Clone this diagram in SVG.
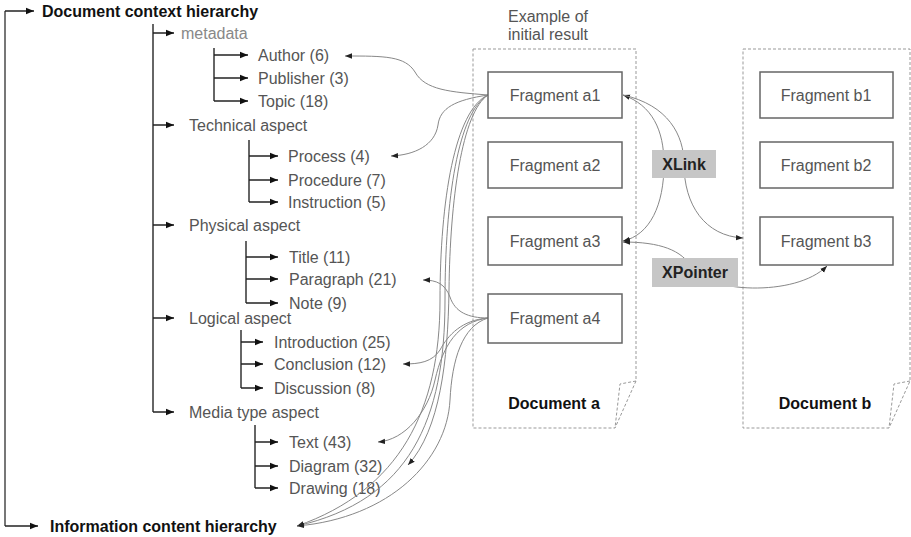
<svg xmlns="http://www.w3.org/2000/svg" width="911" height="537" viewBox="0 0 911 537">
  <defs>
    <marker id="tip" markerUnits="userSpaceOnUse" markerWidth="10" markerHeight="8" refX="8" refY="4" orient="auto">
      <path d="M0,0.8 L8,4 L0,7.2 Z" fill="#111"/>
    </marker>
    <marker id="ltip" markerUnits="userSpaceOnUse" markerWidth="9" markerHeight="7" refX="7" refY="3.5" orient="auto-start-reverse">
      <path d="M0,0.8 L7,3.5 L0,6.2 Z" fill="#222"/>
    </marker>
    <style>
      .tree { fill: none; stroke: #333; stroke-width: 1.5; }
      .trunk { fill: none; stroke: #777; stroke-width: 2; }
      .branch { stroke: #222; stroke-width: 1.5; marker-end: url(#tip); }
      .link { fill: none; stroke: #888; stroke-width: 1; }
      .lbl { font-family: "Liberation Sans", Arial, sans-serif; font-size: 16px; fill: #555; }
      .light { fill: #888; }
      .bold { font-family: "Liberation Sans", Arial, sans-serif; font-size: 16px; font-weight: bold; fill: #111; }
      .frag rect { fill: #fff; stroke: #666; stroke-width: 1.5; }
      .frag text { font-family: "Liberation Sans", Arial, sans-serif; font-size: 16px; fill: #555; text-anchor: middle; }
      .doc { fill: none; stroke: #999; stroke-width: 1; stroke-dasharray: 3 2; }
      .tag rect { fill: #c6c6c6; }
      .tag text { font-family: "Liberation Sans", Arial, sans-serif; font-size: 16px; font-weight: bold; fill: #222; text-anchor: middle; }
    </style>
  </defs>

  <!-- hierarchy tree -->
  <g id="tree-lines">
    <path class="trunk" d="M5,11 V526"/>
    <line class="branch" x1="5" y1="11" x2="34" y2="11"/>
    <line class="branch" x1="5" y1="526" x2="38" y2="526"/>
    <path class="tree" d="M153,24 V412"/>
    <line class="branch" x1="153" y1="33" x2="174" y2="33"/>
    <line class="branch" x1="153" y1="125" x2="174" y2="125"/>
    <line class="branch" x1="153" y1="225" x2="174" y2="225"/>
    <line class="branch" x1="153" y1="318" x2="174" y2="318"/>
    <line class="branch" x1="153" y1="412" x2="174" y2="412"/>
    <path class="tree" d="M214,48 V101"/>
    <line class="branch" x1="214" y1="55" x2="248" y2="55"/>
    <line class="branch" x1="214" y1="78" x2="248" y2="78"/>
    <line class="branch" x1="214" y1="101" x2="248" y2="101"/>
    <path class="tree" d="M249,140 V202"/>
    <line class="branch" x1="249" y1="156" x2="278" y2="156"/>
    <line class="branch" x1="249" y1="180" x2="278" y2="180"/>
    <line class="branch" x1="249" y1="202" x2="278" y2="202"/>
    <path class="tree" d="M246,241 V303"/>
    <line class="branch" x1="246" y1="257" x2="278" y2="257"/>
    <line class="branch" x1="246" y1="279" x2="278" y2="279"/>
    <line class="branch" x1="246" y1="303" x2="278" y2="303"/>
    <path class="tree" d="M241,330 V388"/>
    <line class="branch" x1="241" y1="342" x2="263" y2="342"/>
    <line class="branch" x1="241" y1="364" x2="263" y2="364"/>
    <line class="branch" x1="241" y1="388" x2="263" y2="388"/>
    <path class="tree" d="M255,425 V488"/>
    <line class="branch" x1="255" y1="442" x2="278" y2="442"/>
    <line class="branch" x1="255" y1="466" x2="278" y2="466"/>
    <line class="branch" x1="255" y1="488" x2="278" y2="488"/>
  </g>

  <g id="root-context"><text class="bold" x="42" y="17">Document context hierarchy</text></g>
  <g id="root-content"><text class="bold" x="50" y="532">Information content hierarchy</text></g>

  <g id="metadata"><text class="lbl light" x="181" y="39">metadata</text></g>
  <g id="author"><text class="lbl" x="258" y="61">Author (6)</text></g>
  <g id="publisher"><text class="lbl" x="258" y="84">Publisher (3)</text></g>
  <g id="topic"><text class="lbl" x="258" y="107">Topic (18)</text></g>

  <g id="technical"><text class="lbl" x="189" y="131">Technical aspect</text></g>
  <g id="process"><text class="lbl" x="288" y="162">Process (4)</text></g>
  <g id="procedure"><text class="lbl" x="288" y="186">Procedure (7)</text></g>
  <g id="instruction"><text class="lbl" x="288" y="208">Instruction (5)</text></g>

  <g id="physical"><text class="lbl" x="189" y="231">Physical aspect</text></g>
  <g id="title"><text class="lbl" x="289" y="263">Title (11)</text></g>
  <g id="paragraph"><text class="lbl" x="289" y="285">Paragraph (21)</text></g>
  <g id="note"><text class="lbl" x="289" y="309">Note (9)</text></g>

  <g id="logical"><text class="lbl" x="189" y="324">Logical aspect</text></g>
  <g id="introduction"><text class="lbl" x="274" y="348">Introduction (25)</text></g>
  <g id="conclusion"><text class="lbl" x="274" y="370">Conclusion (12)</text></g>
  <g id="discussion"><text class="lbl" x="274" y="394">Discussion (8)</text></g>

  <g id="mediatype"><text class="lbl" x="189" y="418">Media type aspect</text></g>
  <g id="text-item"><text class="lbl" x="289" y="448">Text (43)</text></g>
  <g id="diagram"><text class="lbl" x="289" y="472">Diagram (32)</text></g>
  <g id="drawing"><text class="lbl" x="289" y="494">Drawing (18)</text></g>

  <!-- documents -->
  <g id="document-a">
    <path class="doc" d="M473,49 H636 V381 L615,428 H473 Z"/>
    <path class="doc" d="M636,381 L620,384 L615,428"/>
    <text class="lbl" x="508" y="22">Example of</text>
    <text class="lbl" x="508" y="40">initial result</text>
    <text class="bold" x="554" y="409" text-anchor="middle">Document a</text>
  </g>
  <g id="document-b">
    <path class="doc" d="M743,49 H910 V381 L889,428 H743 Z"/>
    <path class="doc" d="M910,381 L894,384 L889,428"/>
    <text class="bold" x="825" y="409" text-anchor="middle">Document b</text>
  </g>

  <!-- links -->
  <g id="connectors">
    <path class="link" marker-end="url(#ltip)" d="M488,95 C450,92 425,90 415,72 C405,56 385,56 345,56"/>
    <path class="link" marker-end="url(#ltip)" d="M488,95 C455,100 440,108 438,125 C435,145 415,155 391,156"/>
    <path class="link" marker-end="url(#ltip)" d="M488,95 C455,110 440,200 440,300 C440,410 400,490 297,526"/>
    <path class="link" d="M488,95 C458,112 445,200 445,300 C445,420 410,500 297,526"/>
    <path class="link" marker-end="url(#ltip)" d="M488,95 C462,112 450,200 449,290 C448,360 440,430 408,465"/>
    <path class="link" marker-end="url(#ltip)" d="M488,318 C468,318 455,312 450,297 C445,284 437,280 423,280"/>
    <path class="link" marker-end="url(#ltip)" d="M488,318 C462,320 448,335 440,350 C432,362 420,364 403,364"/>
    <path class="link" marker-end="url(#ltip)" d="M488,318 C458,322 443,345 435,380 C428,412 405,440 378,442"/>
    <path class="link" marker-end="url(#ltip)" d="M488,318 C462,326 452,360 450,400 C447,460 390,518 297,526"/>

    <path class="link" marker-start="url(#ltip)" marker-end="url(#ltip)" d="M623,95 C652,105 664,130 664,164 C664,205 650,235 623,241"/>
    <path class="link" marker-end="url(#ltip)" d="M623,95 C668,105 684,135 684,164 C684,205 705,236 743,238"/>
    <path class="link" marker-start="url(#ltip)" marker-end="url(#ltip)" d="M623,242 C660,242 682,250 692,268 C705,292 795,298 827,266"/>
  </g>

  <g id="xlink" class="tag">
    <rect x="652" y="150" width="64" height="28"/>
    <text x="684" y="170">XLink</text>
  </g>
  <g id="xpointer" class="tag">
    <rect x="652" y="258" width="86" height="29"/>
    <text x="695" y="278">XPointer</text>
  </g>

  <!-- fragments -->
  <g id="fragment-a1" class="frag"><rect x="488" y="72" width="134" height="46"/><text x="555" y="101">Fragment a1</text></g>
  <g id="fragment-a2" class="frag"><rect x="488" y="142" width="134" height="46"/><text x="555" y="171">Fragment a2</text></g>
  <g id="fragment-a3" class="frag"><rect x="488" y="217" width="134" height="48"/><text x="555" y="247">Fragment a3</text></g>
  <g id="fragment-a4" class="frag"><rect x="488" y="294" width="134" height="49"/><text x="555" y="324">Fragment a4</text></g>
  <g id="fragment-b1" class="frag"><rect x="760" y="72" width="133" height="46"/><text x="826" y="101">Fragment b1</text></g>
  <g id="fragment-b2" class="frag"><rect x="760" y="142" width="133" height="46"/><text x="826" y="171">Fragment b2</text></g>
  <g id="fragment-b3" class="frag"><rect x="760" y="217" width="133" height="48"/><text x="826" y="247">Fragment b3</text></g>
</svg>
